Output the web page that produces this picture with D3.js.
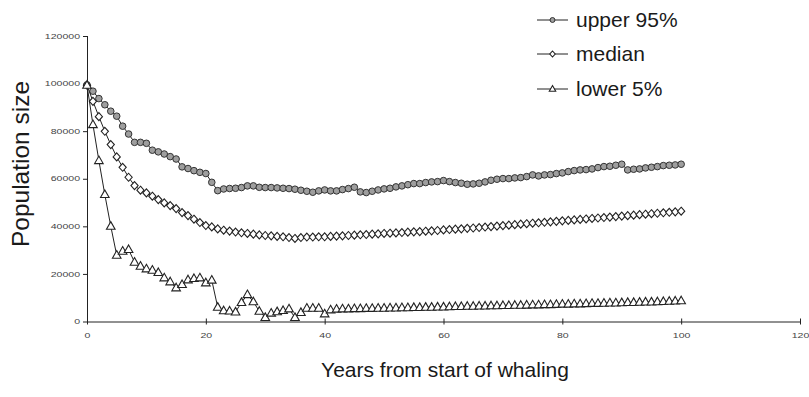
<!DOCTYPE html>
<html>
<head>
<meta charset="utf-8">
<script src="https://cdn.jsdelivr.net/npm/d3@7"></script>
<style>
  html, body { margin: 0; padding: 0; background: #fff; }
  svg { display: block; font-family: "Liberation Sans", Arial, sans-serif; }
</style>
</head>
<body>
<svg id="chart" width="809" height="397"></svg>
<script>
// Simulated whale population trajectories (years 0..100)
const years = d3.range(0, 101);

const upper95 = [
  99500, 96800, 93700, 91100, 88400, 86300, 82100, 78800, 75300, 75300,
  74900, 72000, 71300, 70400, 69300, 68300, 65000, 64300, 63400, 62700,
  62200, 58500, 55000, 55700, 55900, 56000, 56300, 57000, 57000, 56400,
  56300, 56300, 56150, 56000, 55870, 55600, 55170, 54750, 54330, 54900,
  55300, 54900, 54900, 55450, 55870, 56430, 54480, 54200, 54750, 55300,
  55740, 56000, 56580, 57000, 57500, 57970, 57970, 58400, 58670, 58800,
  59230, 58800, 58400, 58110, 57690, 57830, 58110, 58670, 59370, 59800,
  60070, 60070, 60350, 60490, 60910, 61610, 61190, 61610, 61750, 62170,
  62450, 63010, 63430, 63710, 63850, 64130, 64690, 65110, 65250, 65670,
  66100, 63710, 63990, 64130, 64550, 64830, 65110, 65530, 65670, 65810,
  66100
];

const median = [
  99300, 92550, 86110, 79950, 74350, 69170, 64830, 60630, 57130, 55170,
  54050, 52650, 51250, 49850, 48730, 47470, 45790, 44530, 42990, 41590,
  40330, 39770, 38930, 38370, 38000, 37600, 37300, 37000, 36700, 36400,
  36150, 36000, 35750, 35600, 35300, 34900, 35300, 35500, 35500, 35600,
  35600, 35750, 35900, 36000, 36150, 36300, 36450, 36550, 36700, 36850,
  37000, 37100, 37250, 37400, 37550, 37700, 37800, 37950, 38100, 38250,
  38500, 38650, 38800, 38950, 39150, 39300, 39500, 39700, 39900, 40100,
  40300, 40500, 40700, 40900, 41100, 41300, 41500, 41700, 41900, 42100,
  42300, 42500, 42700, 42900, 43100, 43300, 43500, 43700, 43900, 44100,
  44300, 44500, 44700, 44900, 45100, 45300, 45500, 45700, 45900, 46100,
  46350
];

const lower5 = [
  99300, 82750, 67630, 53350, 40050, 27870, 29550, 30250, 24930, 23250,
  22130, 21570, 20590, 18350, 16670, 14150, 15550, 17510, 18070, 18350,
  16250, 17370, 6000, 4500, 4400, 4000, 8000, 11300, 8300, 4300,
  1700, 3500, 4100, 4600, 5300, 1700, 3800, 5600, 5600, 5600,
  3200, 4900, 5200, 5300, 5300, 5400, 5400, 5500, 5500, 5600,
  5600, 5700, 5700, 5800, 5800, 5900, 5900, 6000, 6000, 6100,
  6100, 6200, 6300, 6300, 6400, 6400, 6500, 6500, 6600, 6600,
  6700, 6700, 6800, 6800, 6900, 7000, 7000, 7100, 7100, 7200,
  7300, 7300, 7400, 7400, 7500, 7600, 7600, 7700, 7800, 7800,
  7900, 8000, 8000, 8100, 8200, 8200, 8300, 8400, 8500, 8600,
  8700
];

const seriesNames = ["upper 95%", "median", "lower 5%"];
const xTicks = [0, 20, 40, 60, 80, 100, 120];
const yTicks = [0, 20000, 40000, 60000, 80000, 100000, 120000];

const svg = d3.select("#chart");
const x = d3.scaleLinear().domain([0, 120]).range([87, 800]);
const y = d3.scaleLinear().domain([0, 120000]).range([321.5, 36]);

// Marker shapes
const markerPath = {
  diamond: s => `M0,${-4 * s}L${3.6 * s},0L0,${4 * s}L${-3.6 * s},0Z`,
  triangle: s => `M0,${-4.6 * s}L${4.3 * s},${3 * s}L${-4.3 * s},${3 * s}Z`
};

function drawMarker(g, type, scale) {
  if (type === "circle") {
    g.append("circle").attr("r", 3.3 * scale)
      .attr("fill", "#9e9e9e").attr("stroke", "#333").attr("stroke-width", 1);
  } else {
    g.append("path").attr("d", markerPath[type](scale))
      .attr("fill", "#fff").attr("stroke", "#222").attr("stroke-width", 1.1);
  }
}

// Axes (tick labels are drawn wide, stretched horizontally)
const stretch = 1.6;
const yAxis = svg.append("g").attr("transform", `translate(${x(0)},0)`)
  .call(d3.axisLeft(y).tickValues(yTicks).tickFormat(d3.format("d"))
    .tickSize(4).tickSizeOuter(0).tickPadding(3));
yAxis.select(".domain").attr("stroke", "#222");
yAxis.selectAll(".tick line").attr("x2", -4).attr("x1", 1).attr("stroke", "#222");
yAxis.selectAll(".tick text")
  .attr("font-size", 6.6).attr("fill", "#444")
  .attr("font-family", "'Liberation Sans', Arial, sans-serif")
  .attr("x", -7 / stretch)
  .attr("transform", `scale(${stretch},1)`);

const xAxis = svg.append("g").attr("transform", `translate(0,${y(0)})`)
  .call(d3.axisBottom(x).tickValues(xTicks).tickFormat(d3.format("d"))
    .tickSize(3).tickSizeOuter(0).tickPadding(9));
xAxis.select(".domain").attr("stroke", "#222");
xAxis.selectAll(".tick line").attr("y1", -3).attr("y2", 3).attr("stroke", "#222");
xAxis.selectAll(".tick text")
  .attr("font-size", 6.6).attr("fill", "#444")
  .attr("font-family", "'Liberation Sans', Arial, sans-serif")
  .attr("transform", `scale(${stretch},1)`);

// Axis titles
svg.append("text")
  .attr("transform", `translate(29,164) rotate(-90)`)
  .attr("text-anchor", "middle")
  .attr("font-size", 24.5).attr("fill", "#1a1a1a")
  .text("Population size");

svg.append("text")
  .attr("x", 445).attr("y", 377)
  .attr("text-anchor", "middle")
  .attr("font-size", 21).attr("fill", "#1a1a1a")
  .text("Years from start of whaling");

// Series
const series = [
  { name: seriesNames[0], values: upper95, marker: "circle" },
  { name: seriesNames[1], values: median, marker: "diamond" },
  { name: seriesNames[2], values: lower5, marker: "triangle" }
];

const line = d3.line().x((d, i) => x(years[i])).y(d => y(d));

series.forEach(s => {
  const g = svg.append("g");
  g.append("path").datum(s.values)
    .attr("d", line).attr("fill", "none")
    .attr("stroke", "#222").attr("stroke-width", 1);
  g.selectAll("g.pt").data(s.values).join("g")
    .attr("class", "pt")
    .attr("transform", (d, i) => `translate(${x(years[i])},${y(d)})`)
    .each(function () { drawMarker(d3.select(this), s.marker, 1); });
});

// Legend
const legendRows = [20, 54, 89];
series.forEach((s, i) => {
  const g = svg.append("g").attr("transform", `translate(0,${legendRows[i]})`);
  g.append("line").attr("x1", 537).attr("x2", 568)
    .attr("stroke", "#222").attr("stroke-width", 1);
  const m = g.append("g").attr("transform", "translate(552.5,0)");
  drawMarker(m, s.marker, 0.75);
  g.append("text").attr("x", 576).attr("y", 0)
    .attr("dy", "0.35em").attr("font-size", 21).attr("fill", "#1a1a1a")
    .text(s.name);
});
</script>
</body>
</html>
